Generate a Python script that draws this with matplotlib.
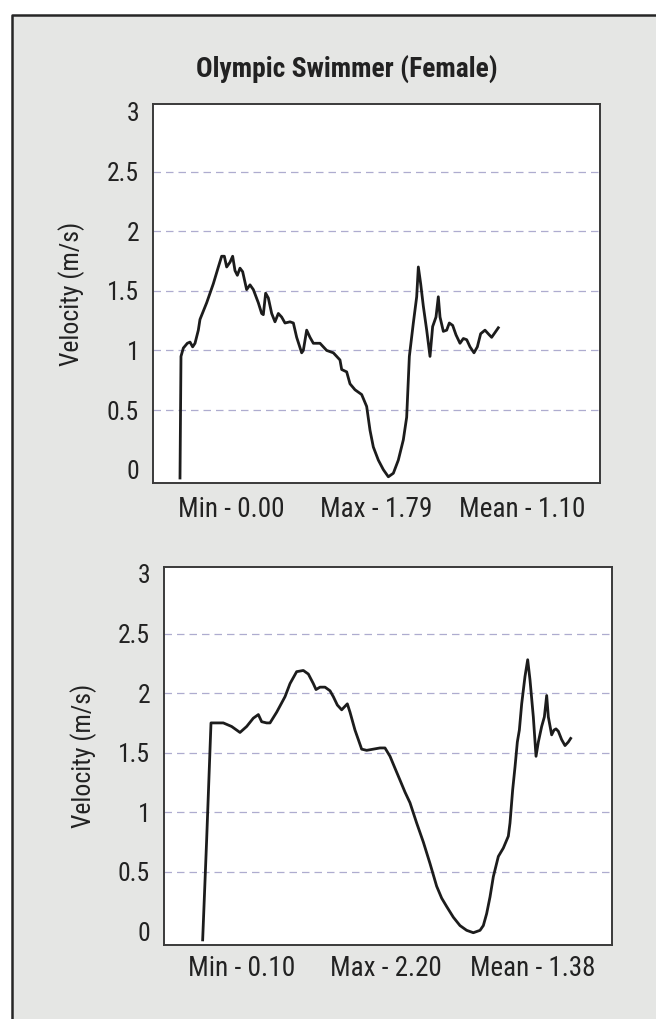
import matplotlib
matplotlib.use("Agg")
import matplotlib.pyplot as plt
from matplotlib import font_manager as fm
from matplotlib.patches import Rectangle
from matplotlib.lines import Line2D

# time axis is arbitrary (no x ticks); panel spans 0..100
t_top = [6.04, 6.26, 6.79, 7.68, 8.28, 8.87, 9.40, 10.14, 10.51, 12.01, 13.50, 14.62,
         15.36, 15.96, 16.48, 17.23, 17.82, 18.34, 18.87, 19.46, 20.06, 20.95, 21.70,
         22.45, 23.56, 24.31, 24.68, 25.20, 25.80, 26.55, 27.29, 28.04, 28.78, 29.53,
         30.65, 31.40, 32.14, 33.26, 33.63, 34.38, 35.12, 35.87, 37.36, 38.85, 40.34,
         41.09, 41.83, 42.21, 43.33, 44.07, 45.19, 46.68, 47.80, 48.55, 49.29, 50.41,
         51.53, 52.65, 53.77, 54.88, 56.00, 56.75, 57.35, 58.24, 58.99, 59.36, 59.88,
         60.48, 61.23, 61.97, 62.56, 63.31, 63.83, 64.21, 64.95, 65.70, 66.29, 67.04,
         67.79, 68.68, 69.43, 70.18, 70.92, 71.81, 72.56, 73.30, 74.27, 75.24, 75.76,
         76.51, 77.25]
v_top = [-0.07, 0.95, 1.02, 1.06, 1.07, 1.03, 1.06, 1.17, 1.26, 1.40, 1.56, 1.70,
         1.79, 1.79, 1.70, 1.74, 1.79, 1.67, 1.63, 1.69, 1.66, 1.51, 1.55,
         1.51, 1.40, 1.31, 1.30, 1.48, 1.44, 1.31, 1.24, 1.31, 1.28, 1.23,
         1.24, 1.23, 1.11, 0.98, 1.00, 1.17, 1.11, 1.06, 1.06, 1.00, 0.98,
         0.95, 0.92, 0.84, 0.82, 0.72, 0.67, 0.63, 0.53, 0.33, 0.19, 0.08,
         0.00, -0.06, -0.03, 0.08, 0.25, 0.44, 0.95, 1.23, 1.45, 1.70, 1.56,
         1.37, 1.17, 0.95, 1.20, 1.28, 1.45, 1.28, 1.16, 1.17, 1.23, 1.21,
         1.13, 1.06, 1.10, 1.09, 1.03, 0.98, 1.03, 1.14, 1.17, 1.13, 1.11,
         1.15, 1.19]

t_bot = [8.63, 9.52, 10.49, 11.38, 13.24, 15.10, 16.96, 18.45, 19.94, 21.06, 21.80,
         22.92, 23.66, 25.15, 27.01, 28.13, 29.61, 31.10, 32.22, 33.33, 33.93, 34.82,
         35.94, 37.05, 37.80, 38.69, 39.66, 40.92, 41.52, 42.63, 43.38, 44.12, 45.24,
         46.73, 48.21, 49.33, 50.45, 51.56, 52.68, 53.79, 54.91, 56.40, 57.89, 59.38,
         60.86, 61.98, 63.09, 64.58, 66.07, 67.56, 69.05, 70.54, 71.28, 72.02, 72.77,
         73.51, 74.63, 75.74, 76.86, 77.23, 77.83, 78.35, 78.87, 79.32, 79.84, 80.58,
         81.18, 81.70, 82.44, 83.04, 83.56, 84.30, 84.90, 85.42, 85.79, 86.53, 87.05,
         87.50, 88.02, 88.76, 89.51, 90.25, 90.77]
v_bot = [-0.07, 0.77, 1.75, 1.75, 1.75, 1.72, 1.67, 1.72, 1.79, 1.82, 1.76,
         1.75, 1.75, 1.84, 1.97, 2.08, 2.18, 2.19, 2.16, 2.08, 2.03, 2.05,
         2.05, 2.02, 1.97, 1.90, 1.86, 1.91, 1.84, 1.69, 1.61, 1.53, 1.52,
         1.53, 1.54, 1.54, 1.47, 1.37, 1.27, 1.17, 1.08, 0.91, 0.75, 0.57,
         0.38, 0.28, 0.21, 0.12, 0.05, 0.01, -0.01, 0.01, 0.05, 0.15, 0.29,
         0.46, 0.63, 0.70, 0.80, 0.91, 1.19, 1.38, 1.59, 1.69, 1.91, 2.14,
         2.28, 2.11, 1.80, 1.47, 1.59, 1.72, 1.80, 1.98, 1.80, 1.65, 1.69,
         1.70, 1.68, 1.61, 1.56, 1.59, 1.62]

yticks = [0, 0.5, 1, 1.5, 2, 2.5, 3]
ytick_labels = ["0", "0.5", "1", "1.5", "2", "2.5", "3"]
stats_top = ["Min - 0.00", "Max - 1.79", "Mean - 1.10"]
stats_bot = ["Min - 0.10", "Max - 2.20", "Mean - 1.38"]
title = "Olympic Swimmer (Female)"
ylabel = "Velocity (m/s)"

# pick a narrow face if one exists (reference uses a condensed grotesque)
names = {f.name for f in fm.fontManager.ttflist}
stretch = "normal"
family = "Roboto"
for cand in ["Liberation Sans Narrow", "Roboto Condensed", "Open Sans Condensed", "Noto Sans Condensed"]:
    if cand in names:
        family = cand
        break
else:
    narrow = [f for f in fm.fontManager.ttflist
              if f.name == "DejaVu Sans" and str(f.stretch) in ("condensed", "semi-condensed")]
    if narrow:
        family, stretch = "DejaVu Sans", "condensed"
plt.rcParams["font.family"] = [family, "DejaVu Sans"]
plt.rcParams["font.stretch"] = stretch

W, H = 656, 1019
fig = plt.figure(figsize=(W / 100, H / 100), dpi=100, facecolor="white")
renderer = fig.canvas.get_renderer()


def fit(txt, target_px, max_size=21, horizontal=True):
    # shrink/grow the font so the text spans about the width seen in the reference
    bb = txt.get_window_extent(renderer=renderer)
    span = bb.width if horizontal else bb.height
    txt.set_fontsize(min(max_size, txt.get_fontsize() * target_px / span))


# grey card, dark edge only on the left and top (it runs off the page elsewhere)
x0, y0 = 12 / W, 1 - 15 / H
fig.patches.append(Rectangle((x0, 0), 1 - x0, y0, transform=fig.transFigure,
                             facecolor="#e5e6e4", edgecolor="none", zorder=-5))
fig.lines.append(Line2D([x0, x0, 1], [0, y0, y0], transform=fig.transFigure,
                        color="#262626", lw=1.8, zorder=-4))

probe = fig.text(0, 0, "2.5", fontsize=18)
fit(probe, 32, max_size=19)
tick_size = probe.get_fontsize()
probe.remove()


def panel(rect, t, v, ylim, stats, stat_x, stat_w, stat_y, ylab_x):
    ax = fig.add_axes(rect)
    ax.set_facecolor("white")
    ax.plot(t, v, color="#1c1c1c", lw=2.0, solid_joinstyle="round")
    for g in yticks[1:-1]:
        ax.axhline(g, color="#aeaccf", lw=0.9, dashes=(6, 4), zorder=0)
    ax.set_xlim(0, 100)
    ax.set_ylim(*ylim)
    ax.set_xticks([])
    ax.set_yticks(yticks)
    ax.set_yticklabels(ytick_labels)
    ax.tick_params(axis="y", length=0, pad=10, labelsize=tick_size, labelcolor="#222222")
    for s in ax.spines.values():
        s.set_color("#3a3a3a")
        s.set_linewidth(1.4)
    for txt, x, w in zip(stats, stat_x, stat_w):
        tt = fig.text(x / W, 1 - stat_y / H, txt, ha="left", va="baseline", fontsize=20, color="#222222")
        fit(tt, w)
    mid = 1 - (rect[1] + rect[3] / 2)
    yl = fig.text(ylab_x / W, 1 - mid, ylabel, rotation=90, ha="center", va="center",
                  fontsize=20, color="#222222")
    fit(yl, 144, horizontal=False)
    return ax


panel([153 / W, 1 - 483 / H, 447 / W, 379 / H], t_top, v_top, (-0.112, 3.067),
      stats_top, [178, 320, 459], [107, 112, 126], 517, 72)
panel([164 / W, 1 - 945 / H, 448 / W, 378 / H], t_bot, v_bot, (-0.113, 3.058),
      stats_bot, [188, 330, 470], [107, 112, 125], 976, 84)

tt = fig.text(347 / W, 1 - 77 / H, title, ha="center", va="baseline", fontsize=20,
              fontweight="bold", color="#222222")
fit(tt, 301, max_size=21)

fig.savefig("out.png", dpi=100, facecolor="white")
